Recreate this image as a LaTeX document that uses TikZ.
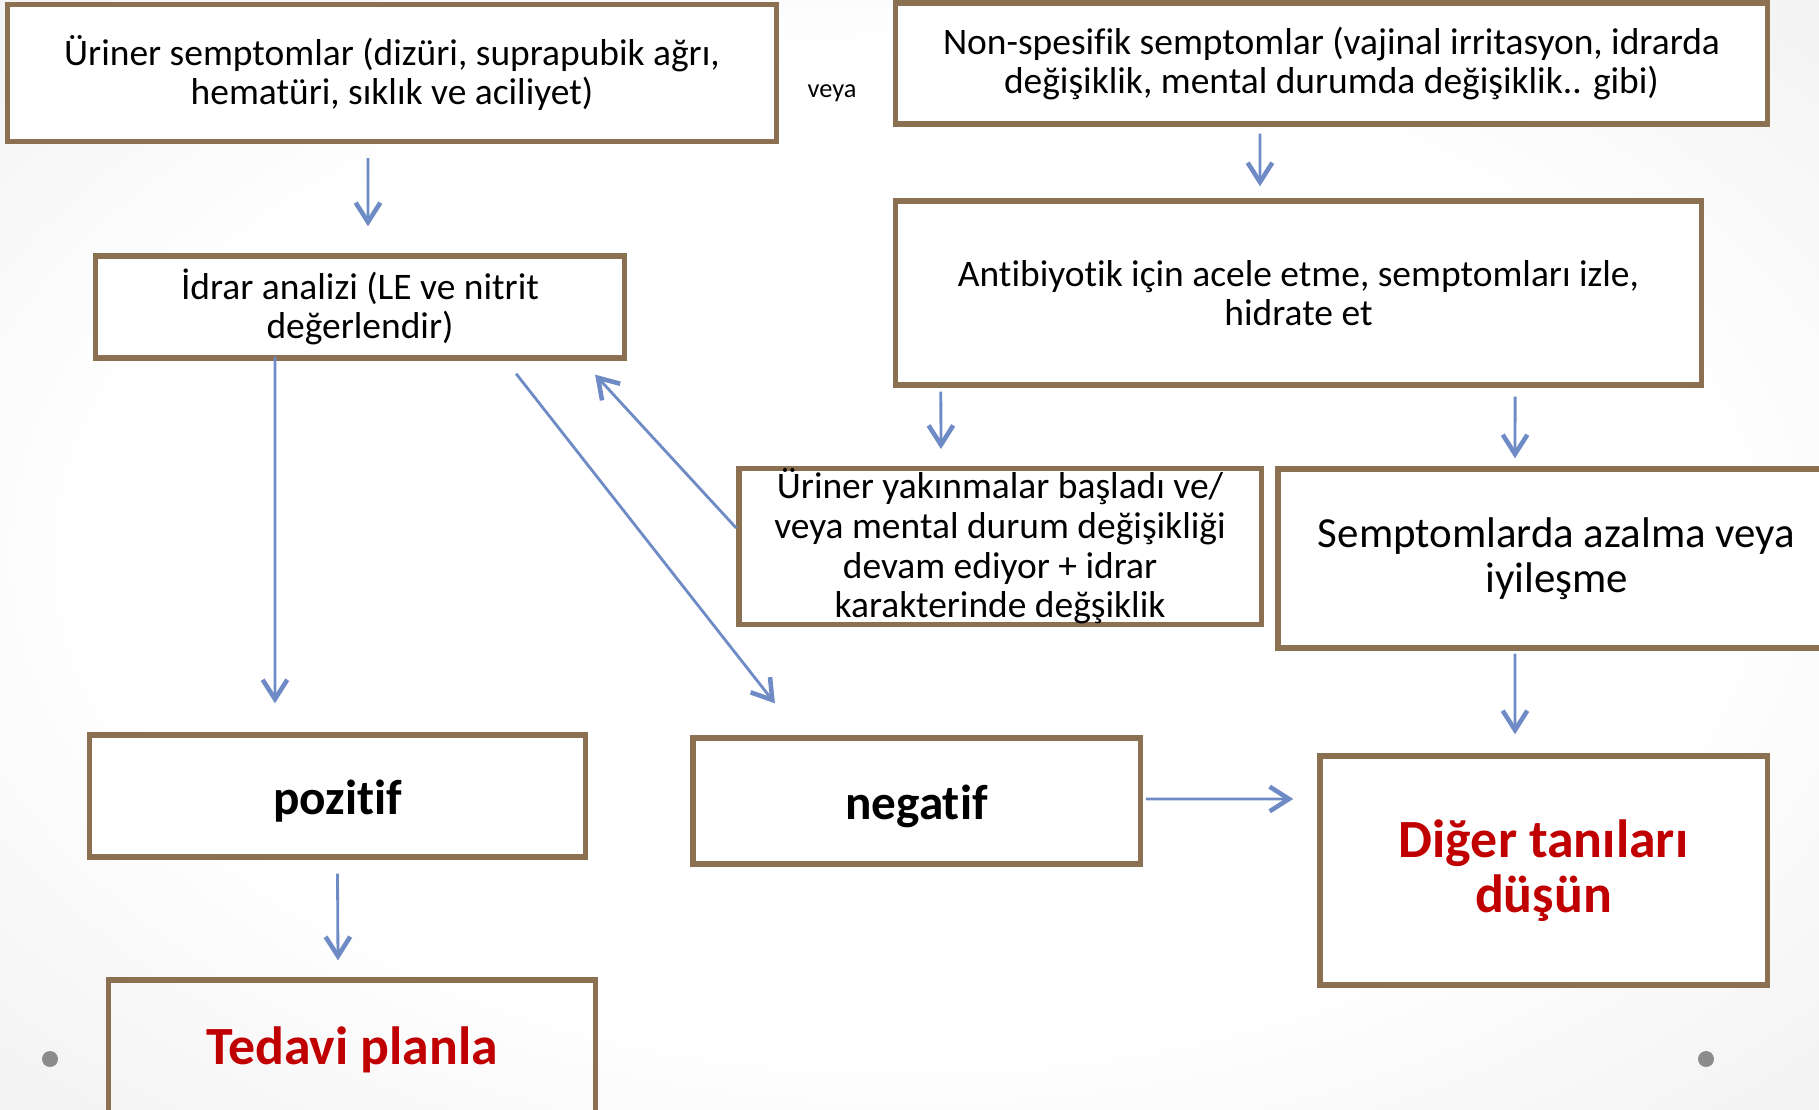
\documentclass[tikz,border=0pt]{standalone}
\usepackage{fontspec}
\setmainfont[Ligatures=NoCommon, RawFeature={-dlig;-clig}]{Carlito}
\usepackage{tikz}
\usetikzlibrary{arrows.meta, positioning}
\definecolor{boxbrown}{RGB}{140,112,82}
\definecolor{arrowblue}{RGB}{111,139,198}
\definecolor{alertred}{RGB}{192,0,0}
\pgfdeclareradialshading{slidebg}{\pgfpoint{0bp}{0bp}}{color(0bp)=(white); color(22bp)=(white); color(52bp)=(black!11); color(72bp)=(black!16)}
\tikzstyle{box}   = [draw=boxbrown, line width=1.5pt, fill=white, align=center,
                     inner sep=0pt, font=\fontsize{10.65}{11.3}\selectfont]
\tikzstyle{arrow} = [draw=arrowblue, line width=0.8pt,
                     -{Straight Barb[length=5.5pt,width=7pt,line width=1.3pt]}]
\begin{document}
\begin{tikzpicture}[x=0.01cm, y=-0.01cm]
  \useasboundingbox (0,0) rectangle (1819,1109);
  \clip (0,0) rectangle (1819,1109);
  \shade[shading=slidebg] (0,0) rectangle (1819,1109);

  % left column
  \node[box, minimum width=7.68cm, minimum height=1.37cm] (urin) at (392,73)
    {Üriner semptomlar (dizüri, suprapubik ağrı,\\ hematüri, sıklık ve aciliyet)};
  \node[font=\fontsize{7.5}{9}\selectfont] (veya) at (832,93) {veya};
  \node[box, minimum width=5.28cm, minimum height=1.02cm] (idrar) at (360,307)
    {İdrar analizi (LE ve nitrit\\ değerlendir)};
  \node[box, minimum width=4.95cm, minimum height=1.22cm, text height=13.3pt, text depth=3pt,
        font=\fontsize{14}{16}\selectfont\bfseries] (pozitif) at (337.5,796) {pozitif};
  \node[box, fill=none, minimum width=4.86cm, minimum height=1.34cm, text=alertred,
        text height=13.3pt, text depth=3.1pt,
        font=\fontsize{15.3}{15.6}\selectfont\bfseries] (tedavi) at (352,1047) {Tedavi planla};

  % right column
  \node[box, minimum width=8.71cm, minimum height=1.21cm] (nonspes) at (1331.5,63.5)
    {Non-spesifik semptomlar (vajinal irritasyon, idrarda\\ değişiklik, mental durumda değişiklik.. gibi)};
  \node[box, minimum width=8.05cm, minimum height=1.84cm] (antibiyotik) at (1298.5,293)
    {Antibiyotik için acele etme, semptomları izle,\\ hidrate et};
  \node[box, minimum width=5.22cm, minimum height=1.55cm] (yakinma) at (1000,546.5)
    {Üriner yakınmalar başladı ve/\\ veya mental durum değişikliği\\ devam ediyor + idrar\\ karakterinde değşiklik};
  \node[box, minimum width=5.57cm, minimum height=1.79cm,
        font=\fontsize{12.2}{12.8}\selectfont] (azalma) at (1556.5,558.5)
    {Semptomlarda azalma veya\\ iyileşme};
  \node[box, minimum width=4.47cm, minimum height=1.26cm, text height=13.3pt, text depth=3pt,
        font=\fontsize{14}{16}\selectfont\bfseries] (negatif) at (916.5,801) {negatif};
  \node[box, minimum width=4.47cm, minimum height=2.29cm, text=alertred,
        font=\fontsize{15.3}{15.6}\selectfont\bfseries] (diger) at (1543.5,870.5)
    {Diğer tanıları\\ düşün};

  \node[circle, fill=black!45, inner sep=0pt, minimum size=0.16cm] (dotL) at (50,1059) {};
  \node[circle, fill=black!45, inner sep=0pt, minimum size=0.16cm] (dotR) at (1706,1059) {};

  % connectors
  \draw[arrow] ([xshift=-0.24cm,yshift=-0.14cm]urin.south) -- ([xshift=0.08cm,yshift=0.27cm]idrar.north);
  \draw[arrow] ([xshift=-0.715cm,yshift=-0.07cm]nonspes.south) -- ([xshift=-0.385cm,yshift=0.12cm]antibiyotik.north);
  \draw[arrow] ([xshift=-3.575cm,yshift=-0.04cm]antibiyotik.south) -- ([xshift=-0.59cm,yshift=0.17cm]yakinma.north);
  \draw[arrow] ([xshift=2.165cm,yshift=-0.09cm]antibiyotik.south) -- ([xshift=-0.415cm,yshift=0.08cm]azalma.north);
  \draw[arrow] ([xshift=-0.85cm,yshift=0.04cm]idrar.south) -- ([xshift=-0.625cm,yshift=0.29cm]pozitif.north);
  \draw[arrow] ([xshift=1.56cm,yshift=-0.13cm]idrar.south) -- ([xshift=-1.415cm,yshift=0.32cm]negatif.north);
  \draw[arrow] ([yshift=0.185cm]yakinma.west) -- ([xshift=2.35cm,yshift=-0.14cm]idrar.south);
  \draw[arrow] ([yshift=-0.14cm]pozitif.south) -- ([xshift=-0.14cm,yshift=0.17cm]tedavi.north);
  \draw[arrow] ([xshift=0.03cm,yshift=0.02cm]negatif.east) -- ([xshift=-0.24cm,yshift=0.715cm]diger.west);
  \draw[arrow] ([xshift=-0.415cm,yshift=-0.03cm]azalma.south) -- ([xshift=-0.285cm,yshift=0.19cm]diger.north);
\end{tikzpicture}
\end{document}
